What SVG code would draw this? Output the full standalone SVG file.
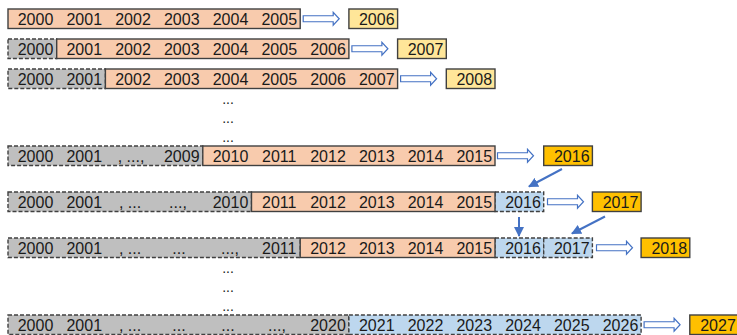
<svg xmlns="http://www.w3.org/2000/svg" width="737" height="335" viewBox="0 0 737 335">
<defs>
<style>
.t{font-family:"Liberation Sans",Arial,sans-serif;font-size:16px;fill:#1a1a1a;text-anchor:middle}
.d{font-family:"Liberation Sans",Arial,sans-serif;font-size:14px;fill:#1a1a1a;text-anchor:middle}
.sal{fill:#F8CBAD;stroke:#404040;stroke-width:1.4}
.gry{fill:#BFBFBF;stroke:#404040;stroke-width:1.4;stroke-dasharray:4 2}
.blu{fill:#BDD7EE;stroke:#404040;stroke-width:1.4;stroke-dasharray:4 2}
.yel{fill:#FFE699;stroke:#404040;stroke-width:1.4}
.org{fill:#FFC000;stroke:#404040;stroke-width:1.4}
.blk{fill:#fff;stroke:#4472C4;stroke-width:1.2}
.ln{fill:none;stroke:#4472C4;stroke-width:2;marker-end:url(#ah)}
</style>
<marker id="ah" markerUnits="userSpaceOnUse" markerWidth="10" markerHeight="10" viewBox="0 0 10 10" refX="9" refY="5" orient="auto">
<path d="M0,0 L10,5 L0,10 z" fill="#4472C4"/>
</marker>
</defs>

<g id="row1">
<rect class="sal" x="8" y="9" width="292.2" height="19.5"/>
<text class="t" x="35.5" y="25">2000</text><text class="t" x="84.25" y="25">2001</text><text class="t" x="133" y="25">2002</text><text class="t" x="181.75" y="25">2003</text><text class="t" x="230.5" y="25">2004</text><text class="t" x="279.25" y="25">2005</text>
</g>
<g id="target2006"><rect class="yel" x="348.9" y="9" width="48.7" height="19.5"/><text class="t" x="376.75" y="25">2006</text></g>

<g id="row2">
<rect class="gry" x="8" y="39" width="48.7" height="19.5"/>
<rect class="sal" x="56.7" y="39" width="292.2" height="19.5"/>
<text class="t" x="35.5" y="55">2000</text><text class="t" x="84.25" y="55">2001</text><text class="t" x="133" y="55">2002</text><text class="t" x="181.75" y="55">2003</text><text class="t" x="230.5" y="55">2004</text><text class="t" x="279.25" y="55">2005</text><text class="t" x="328" y="55">2006</text>
</g>
<g id="target2007"><rect class="yel" x="397.6" y="39" width="48.7" height="19.5"/><text class="t" x="425.5" y="55">2007</text></g>

<g id="row3">
<rect class="gry" x="8" y="69" width="97.4" height="19.5"/>
<rect class="sal" x="105.4" y="69" width="292.2" height="19.5"/>
<text class="t" x="35.5" y="85">2000</text><text class="t" x="84.25" y="85">2001</text><text class="t" x="133" y="85">2002</text><text class="t" x="181.75" y="85">2003</text><text class="t" x="230.5" y="85">2004</text><text class="t" x="279.25" y="85">2005</text><text class="t" x="328" y="85">2006</text><text class="t" x="376.75" y="85">2007</text>
</g>
<g id="target2008"><rect class="yel" x="446.3" y="69" width="48.7" height="19.5"/><text class="t" x="474.25" y="85">2008</text></g>

<g id="dots1">
<text class="d" x="228" y="104">...</text><text class="d" x="228" y="123">...</text><text class="d" x="228" y="142">...</text>
</g>

<g id="row4">
<rect class="gry" x="8" y="146" width="194.8" height="19.5"/>
<rect class="sal" x="202.8" y="146" width="292.2" height="19.5"/>
<text class="t" x="35.5" y="162">2000</text><text class="t" x="84.25" y="162">2001</text><text class="t" x="131" y="162">, ...,</text><text class="t" x="181.75" y="162">2009</text><text class="t" x="230.5" y="162">2010</text><text class="t" x="279.25" y="162">2011</text><text class="t" x="328" y="162">2012</text><text class="t" x="376.75" y="162">2013</text><text class="t" x="425.5" y="162">2014</text><text class="t" x="474.25" y="162">2015</text>
</g>
<g id="target2016"><rect class="org" x="543.7" y="146" width="48.7" height="19.5"/><text class="t" x="571.75" y="162">2016</text></g>

<g id="row5">
<rect class="gry" x="8" y="192" width="243.5" height="19.5"/>
<rect class="blu" x="495" y="192" width="48.7" height="19.5"/>
<rect class="sal" x="251.5" y="192" width="243.5" height="19.5"/>
<text class="t" x="35.5" y="208">2000</text><text class="t" x="84.25" y="208">2001</text><text class="t" x="130" y="208">, ...</text><text class="t" x="178" y="208">...,</text><text class="t" x="230.5" y="208">2010</text><text class="t" x="279.25" y="208">2011</text><text class="t" x="328" y="208">2012</text><text class="t" x="376.75" y="208">2013</text><text class="t" x="425.5" y="208">2014</text><text class="t" x="474.25" y="208">2015</text><text class="t" x="523" y="208">2016</text>
</g>
<g id="target2017"><rect class="org" x="592.4" y="192" width="48.7" height="19.5"/><text class="t" x="620.5" y="208">2017</text></g>

<g id="row6">
<rect class="gry" x="8" y="238" width="292.2" height="19.5"/>
<rect class="blu" x="495" y="238" width="48.7" height="19.5"/>
<rect class="blu" x="543.7" y="238" width="48.7" height="19.5"/>
<rect class="sal" x="300.2" y="238" width="194.8" height="19.5"/>
<text class="t" x="35.5" y="254">2000</text><text class="t" x="84.25" y="254">2001</text><text class="t" x="130" y="254">, ...</text><text class="t" x="179" y="254">...</text><text class="t" x="230" y="254">...,</text><text class="t" x="279.25" y="254">2011</text><text class="t" x="328" y="254">2012</text><text class="t" x="376.75" y="254">2013</text><text class="t" x="425.5" y="254">2014</text><text class="t" x="474.25" y="254">2015</text><text class="t" x="523" y="254">2016</text><text class="t" x="571.75" y="254">2017</text>
</g>
<g id="target2018"><rect class="org" x="641.1" y="238" width="48.7" height="19.5"/><text class="t" x="669.25" y="254">2018</text></g>

<g id="dots2">
<text class="d" x="228" y="273">...</text><text class="d" x="228" y="292">...</text><text class="d" x="228" y="311">...</text>
</g>

<g id="row7">
<rect class="gry" x="8" y="315" width="340.9" height="19.5"/>
<rect class="blu" x="348.9" y="315" width="292.2" height="19.5"/>
<text class="t" x="35.5" y="331">2000</text><text class="t" x="84.25" y="331">2001</text><text class="t" x="130" y="331">, ...</text><text class="t" x="179" y="331">...</text><text class="t" x="228" y="331">...</text><text class="t" x="277" y="331">...,</text><text class="t" x="328" y="331">2020</text><text class="t" x="376.75" y="331">2021</text><text class="t" x="425.5" y="331">2022</text><text class="t" x="474.25" y="331">2023</text><text class="t" x="523" y="331">2024</text><text class="t" x="571.75" y="331">2025</text><text class="t" x="620.5" y="331">2026</text>
</g>
<g id="target2027"><rect class="org" x="689.8" y="315" width="48.7" height="19.5"/><text class="t" x="718" y="331">2027</text></g>

<g id="connectors">
<path class="blk" d="M303.2,15.75 h30 v-3.5 l6,6.5 l-6,6.5 v-3.5 h-30 z"/>
<path class="blk" d="M351.9,45.75 h30 v-3.5 l6,6.5 l-6,6.5 v-3.5 h-30 z"/>
<path class="blk" d="M400.6,75.75 h30 v-3.5 l6,6.5 l-6,6.5 v-3.5 h-30 z"/>
<path class="blk" d="M497.5,152.75 h30 v-3.5 l6,6.5 l-6,6.5 v-3.5 h-30 z"/>
<path class="blk" d="M547.5,198.75 h30 v-3.5 l6,6.5 l-6,6.5 v-3.5 h-30 z"/>
<path class="blk" d="M596.5,244.75 h30 v-3.5 l6,6.5 l-6,6.5 v-3.5 h-30 z"/>
<path class="blk" d="M644.1,321.75 h30 v-3.5 l6,6.5 l-6,6.5 v-3.5 h-30 z"/>
<line class="ln" x1="562" y1="169" x2="529" y2="186.5"/>
<line class="ln" x1="519" y1="217" x2="519" y2="236"/>
<line class="ln" x1="605" y1="216.5" x2="572" y2="233.5"/>
</g>
</svg>
